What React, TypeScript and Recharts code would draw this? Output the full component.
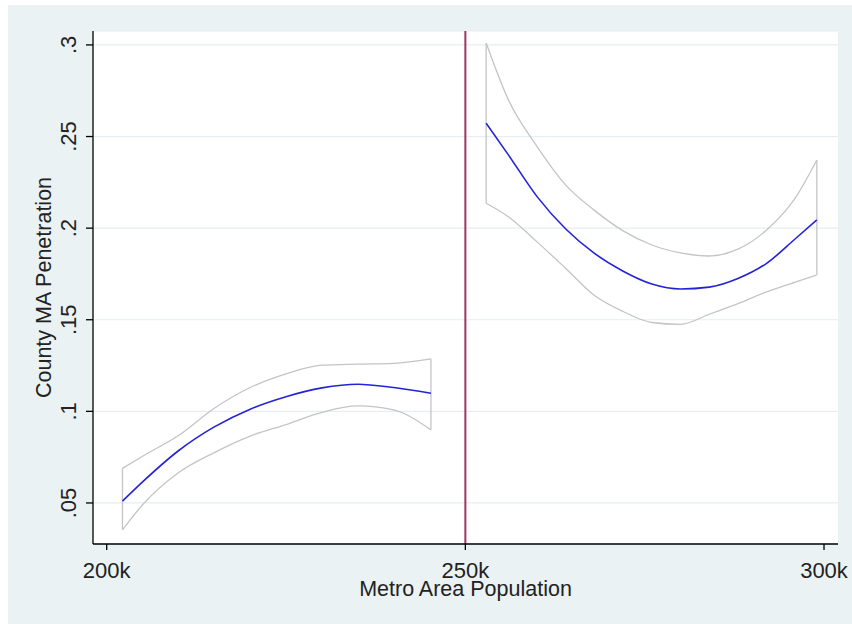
import React from 'react';
import { LineChart, Line, XAxis, YAxis, CartesianGrid, ReferenceLine, Label } from 'recharts';

// population (k) below the 250k cutoff
const leftX = [202.2, 205, 210, 215, 220, 225, 230, 235, 240, 245.2];
const leftFit = [0.051, 0.0615, 0.0785, 0.0915, 0.1012, 0.108, 0.1128, 0.1148, 0.113, 0.1099];
const leftUpper = [0.0689, 0.0755, 0.0868, 0.1017, 0.113, 0.1205, 0.1252, 0.1258, 0.1262, 0.1286];
const leftLower = [0.0353, 0.049, 0.0665, 0.0775, 0.0865, 0.0928, 0.0995, 0.103, 0.1008, 0.0899];

// population (k) above the cutoff
const rightX = [252.9, 256, 260, 264, 268, 272, 276, 280, 284, 288, 292, 296, 299];
const rightFit = [0.2573, 0.24, 0.2172, 0.1995, 0.1862, 0.1765, 0.1695, 0.1668, 0.1678, 0.1725, 0.1808, 0.1942, 0.2045];
const rightUpper = [0.301, 0.27, 0.2445, 0.2235, 0.2097, 0.1985, 0.1908, 0.1865, 0.1848, 0.1885, 0.199, 0.2165, 0.2372];
const rightLower = [0.2136, 0.2062, 0.1925, 0.178, 0.1632, 0.1545, 0.1485, 0.1475, 0.153, 0.1588, 0.1652, 0.1705, 0.1745];

const cutoff = 250000;
const xTicks = [200000, 250000, 300000];
const xTickLabels = ['200k', '250k', '300k'];
const yTicks = [0.05, 0.1, 0.15, 0.2, 0.25, 0.3];
const yTickLabels = ['.05', '.1', '.15', '.2', '.25', '.3'];

const FONT = '"Liberation Sans", Arial, sans-serif';
const TEXT = '#222';
const CI = '#c4c4c4';
const FIT = '#2323d8';

const toPoints = (xs: number[], ys: number[]) => xs.map((x, i) => ({ x: x * 1000, y: ys[i] }));

// vertical closing segment of a band at index i
const cap = (xs: number[], up: number[], lo: number[], i: number) => [
  { x: xs[i] * 1000, y: lo[i] },
  { x: xs[i] * 1000, y: up[i] },
];

const bands = [
  { key: 'left', xs: leftX, up: leftUpper, lo: leftLower, fit: leftFit },
  { key: 'right', xs: rightX, up: rightUpper, lo: rightLower, fit: rightFit },
];

const YTick = (props: any) => {
  const { x, y, payload } = props;
  const i = yTicks.findIndex((t) => Math.abs(t - payload.value) < 1e-9);
  const bx = x - 10;
  return (
    <text x={bx} y={y} transform={`rotate(-90, ${bx}, ${y})`} textAnchor="middle" fontSize={22} fontFamily={FONT} fill={TEXT}>
      {i >= 0 ? yTickLabels[i] : payload.value}
    </text>
  );
};

const XTick = (props: any) => {
  const { x, y, payload } = props;
  const i = xTicks.indexOf(payload.value);
  return (
    <text x={x} y={y + 27.5} textAnchor="middle" fontSize={22} fontFamily={FONT} fill={TEXT}>
      {i >= 0 ? xTickLabels[i] : payload.value}
    </text>
  );
};

export default function App() {
  const lineProps = { dataKey: 'y', dot: false, activeDot: false, isAnimationActive: false } as const;
  return (
    <div style={{ position: 'absolute', left: 8, top: 5, width: 844, height: 619, background: '#eaf2f3' }}>
      <LineChart width={844} height={619} margin={{ top: 26, right: 14, bottom: 0, left: 0 }}>
        <CartesianGrid horizontal vertical={false} fill="#ffffff" stroke="#e6eef1" strokeWidth={1.2} />
        <XAxis
          type="number"
          dataKey="x"
          domain={[198090, 301950]}
          ticks={xTicks}
          allowDataOverflow
          height={80}
          tickSize={6}
          tickMargin={0}
          tick={<XTick />}
          axisLine={{ stroke: '#000', strokeWidth: 1.3 }}
          tickLine={{ stroke: '#000', strokeWidth: 1.3 }}
        >
          <Label
            content={(p: any) => {
              const vb = p.viewBox || { x: 85, y: 539, width: 745 };
              return (
                <text x={vb.x + vb.width / 2} y={vb.y + 52} textAnchor="middle" fontSize={21.5} fontFamily={FONT} fill={TEXT}>
                  Metro Area Population
                </text>
              );
            }}
          />
        </XAxis>
        <YAxis
          type="number"
          dataKey="y"
          domain={[0.0276, 0.3076]}
          ticks={yTicks}
          allowDataOverflow
          width={85}
          tickSize={7}
          tickMargin={0}
          tick={<YTick />}
          axisLine={{ stroke: '#000', strokeWidth: 1.3 }}
          tickLine={{ stroke: '#000', strokeWidth: 1.3 }}
        >
          <Label
            content={(p: any) => {
              const vb = p.viewBox || { x: 0, y: 26, width: 85, height: 513 };
              const cx = 43;
              const cy = vb.y + vb.height / 2;
              return (
                <text x={cx} y={cy} transform={`rotate(-90, ${cx}, ${cy})`} textAnchor="middle" fontSize={21.5} fontFamily={FONT} fill={TEXT}>
                  County MA Penetration
                </text>
              );
            }}
          />
        </YAxis>
        <ReferenceLine x={cutoff} stroke="#a0335f" strokeWidth={2} />
        {bands.map((b) => [
          <Line key={`${b.key}-up`} {...lineProps} data={toPoints(b.xs, b.up)} type="monotone" stroke={CI} strokeWidth={1.3} />,
          <Line key={`${b.key}-lo`} {...lineProps} data={toPoints(b.xs, b.lo)} type="monotone" stroke={CI} strokeWidth={1.3} />,
          <Line key={`${b.key}-c0`} {...lineProps} data={cap(b.xs, b.up, b.lo, 0)} type="linear" stroke={CI} strokeWidth={1.3} />,
          <Line key={`${b.key}-c1`} {...lineProps} data={cap(b.xs, b.up, b.lo, b.xs.length - 1)} type="linear" stroke={CI} strokeWidth={1.3} />,
          <Line key={`${b.key}-fit`} {...lineProps} data={toPoints(b.xs, b.fit)} type="monotone" stroke={FIT} strokeWidth={1.6} />,
        ])}
      </LineChart>
    </div>
  );
}
